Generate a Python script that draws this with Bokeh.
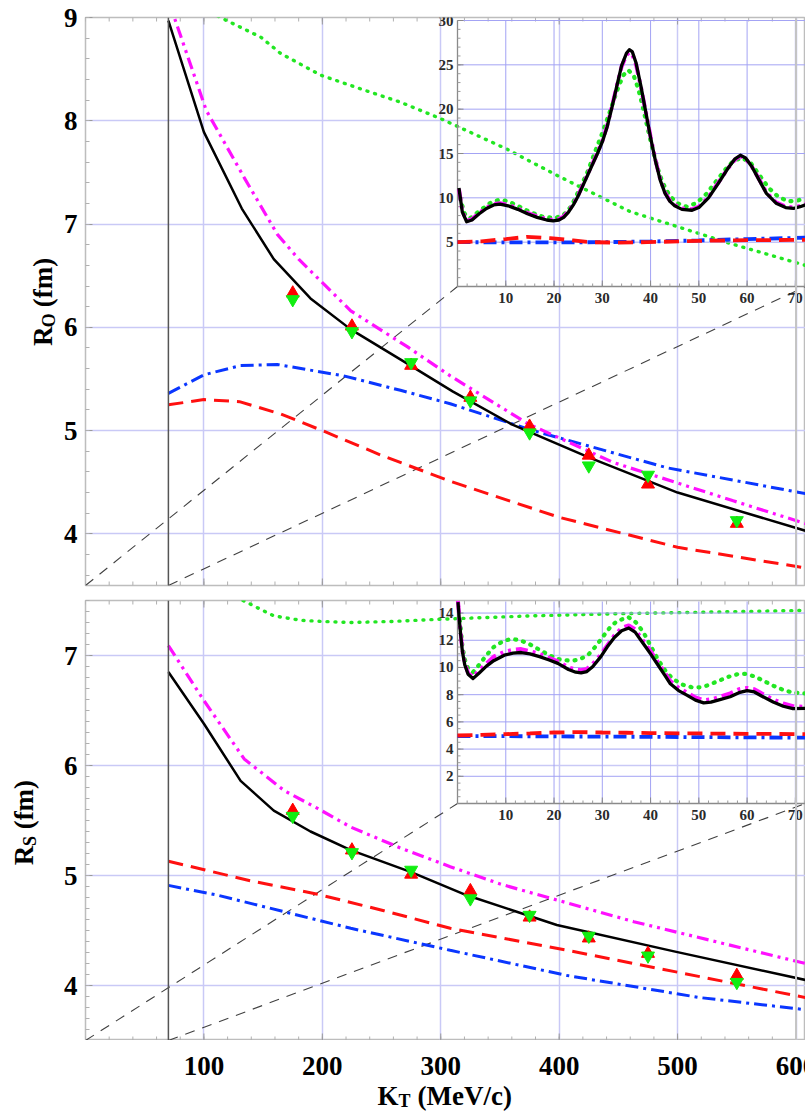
import math
from bokeh.plotting import figure
from bokeh.layouts import column, row
from bokeh.models import FixedTicker, Span, Range1d
from bokeh.embed import file_html
from bokeh.resources import INLINE
from bokeh.core.properties import value

# ---------------- data ----------------
kt_ticks = [100, 200, 300, 400, 500, 600]
kt_minor = [v for v in range(0, 620, 20)]
ro_ticks = [4, 5, 6, 7, 8, 9]
rs_ticks = [4, 5, 6, 7]
ins_x_ticks = [10, 20, 30, 40, 50, 60, 70]
ins_ro_ticks = [5, 10, 15, 20, 25, 30]
ins_rs_ticks = [2, 4, 6, 8, 10, 12, 14]

kt_cut = 70  # zoom boundary (MeV/c)

# Measured points
kt_pts = [175, 225, 275, 325, 375, 425, 475, 550]
ro_red = [6.33, 6.01, 5.63, 5.32, 5.04, 4.76, 4.48, 4.10]
ro_green = [6.27, 5.96, 5.66, 5.29, 4.98, 4.66, 4.57, 4.13]
rs_red = [5.59, 5.23, 5.01, 4.86, 4.62, 4.43, 4.29, 4.09]
rs_green = [5.54, 5.21, 5.05, 4.79, 4.64, 4.45, 4.27, 4.03]

# R_O main curves
ro_black_x = [70, 100, 132, 159, 190, 224, 270, 310, 360, 425, 500, 608]
ro_black_y = [8.97, 7.89, 7.15, 6.66, 6.28, 5.98, 5.66, 5.38, 5.06, 4.74, 4.40, 4.03]
ro_mag_x = [70, 75, 102, 134, 162, 180, 224, 272, 308, 373, 446, 547, 608]
ro_mag_y = [9.22, 9.0, 8.1, 7.45, 6.90, 6.66, 6.16, 5.81, 5.53, 5.07, 4.69, 4.32, 4.10]
ro_blue_x = [70, 100, 131, 162, 218, 266, 308, 378, 491, 608]
ro_blue_y = [5.36, 5.54, 5.63, 5.64, 5.53, 5.39, 5.26, 5.00, 4.64, 4.39]
ro_red_x = [70, 100, 130, 165, 200, 250, 308, 400, 500, 608]
ro_red_y = [5.25, 5.30, 5.28, 5.16, 5.00, 4.76, 4.51, 4.16, 3.87, 3.67]
ro_green_x = [100, 114, 148, 165, 199, 232, 266, 300, 355, 400, 460, 545, 608]
ro_green_y = [9.09, 9.0, 8.81, 8.65, 8.44, 8.31, 8.18, 8.02, 7.73, 7.46, 7.12, 6.81, 6.60]

# R_S main curves
rs_black_x = [70, 100, 131, 159, 190, 224, 275, 322, 398, 497, 608]
rs_black_y = [6.85, 6.38, 5.86, 5.59, 5.40, 5.23, 5.03, 4.82, 4.55, 4.31, 4.05]
rs_mag_x = [70, 100, 134, 168, 196, 224, 266, 308, 351, 463, 608]
rs_mag_y = [7.09, 6.59, 6.06, 5.77, 5.61, 5.44, 5.25, 5.08, 4.92, 4.58, 4.20]
rs_red_x = [70, 140, 196, 252, 308, 407, 519, 608]
rs_red_y = [5.13, 4.95, 4.83, 4.68, 4.52, 4.32, 4.08, 3.89]
rs_blue_x = [70, 112, 168, 224, 308, 407, 519, 608]
rs_blue_y = [4.91, 4.82, 4.67, 4.52, 4.32, 4.09, 3.89, 3.78]
rs_green_x = [115, 133, 159, 182, 199, 224, 260, 300, 376, 450, 608]
rs_green_y = [7.60, 7.50, 7.36, 7.32, 7.31, 7.30, 7.31, 7.33, 7.36, 7.38, 7.41]

# R_O inset curves
iro_black_x = [0.3, 1.0, 1.9, 3.0, 4.5, 6.0, 7.5, 8.8, 10.5, 12.5, 14.5, 16.5, 18.5, 19.8, 21, 22, 23, 24, 25,
               26, 27, 28, 29, 30, 31, 32, 33, 34, 35, 35.6, 36.2, 37, 38, 39, 40, 41, 42, 43, 44, 45,
               46.5, 48.6, 50, 52, 54, 56, 57.5, 58.6, 59.7, 61, 62.5, 64, 66, 68, 69.6, 71, 72.1]
iro_black_y = [11.1, 8.4, 7.3, 7.5, 8.2, 8.8, 9.2, 9.3, 9.1, 8.7, 8.2, 7.8, 7.5, 7.4, 7.5, 7.8, 8.4, 9.2, 10.2,
               11.4, 12.6, 13.8, 15.0, 16.3, 18.0, 20.2, 22.6, 24.9, 26.3, 26.7, 26.5, 25.2, 22.6, 19.7, 16.8,
               14.2, 12.0, 10.5, 9.6, 9.1, 8.7, 8.6, 8.9, 10.0, 11.6, 13.3, 14.4, 14.8, 14.5, 13.5, 12.0,
               10.5, 9.4, 8.9, 8.8, 9.0, 9.2]
iro_mag_x = [0.3, 1.0, 1.9, 3.0, 4.5, 6.0, 7.5, 8.8, 10.5, 12.5, 14.5, 16.5, 18.5, 19.8, 21, 22, 23, 24, 25,
             26, 27, 28, 29, 30, 31, 32, 33, 34, 35, 35.6, 36.2, 37, 38, 39, 40, 41, 42, 43, 44, 45,
             46.5, 48.6, 50, 52, 54, 56, 57.5, 58.6, 59.7, 61, 62.5, 64, 66, 68, 69.6, 71, 72.1]
iro_mag_y = [11.0, 8.5, 7.4, 7.6, 8.3, 8.9, 9.3, 9.4, 9.2, 8.8, 8.3, 7.9, 7.6, 7.5, 7.6, 7.9, 8.5, 9.3, 10.3,
             11.5, 12.7, 13.9, 15.1, 16.4, 18.1, 20.3, 22.6, 24.8, 26.1, 26.4, 26.2, 25.0, 22.5, 19.7, 16.9,
             14.3, 12.1, 10.6, 9.7, 9.2, 8.8, 8.7, 9.0, 10.1, 11.7, 13.3, 14.3, 14.7, 14.4, 13.5, 12.1,
             10.6, 9.5, 9.0, 8.9, 9.1, 9.3]
iro_green_x = [0.5, 1.5, 2.6, 5, 7, 8.8, 10.5, 12.5, 15, 17.5, 20.2, 22, 23.5, 25.4, 27, 28.5, 30, 31.5, 33,
               34.3, 35.4, 36.5, 37.5, 38.5, 39.5, 40.5, 41.5, 42.5, 44, 45.5, 47.5, 49.5, 51.5, 53.5, 55.5,
               57.2, 59, 60.8, 62.5, 64.5, 66.5, 68.6, 70.5, 72]
iro_green_y = [10.0, 8.2, 7.7, 8.7, 9.5, 9.8, 9.6, 9.1, 8.4, 7.9, 7.7, 8.1, 9.0, 11.1, 13.0, 15.2, 17.3, 19.6,
               22.0, 23.8, 24.4, 23.8, 22.2, 20.0, 17.6, 15.3, 13.3, 11.7, 10.2, 9.4, 9.0, 9.4, 10.4, 11.8,
               13.2, 14.2, 14.5, 13.9, 12.6, 11.1, 10.1, 9.6, 9.7, 9.95]
iro_red_x = [0, 5, 10, 14.4, 19.2, 24, 27.5, 33, 39.3, 50, 60, 72]
iro_red_y = [5.0, 5.1, 5.35, 5.6, 5.45, 5.2, 5.0, 4.95, 5.0, 5.15, 5.22, 5.26]
iro_blue_x = [0, 10, 20, 30, 40, 50, 60, 72]
iro_blue_y = [5.0, 4.98, 4.97, 5.0, 5.08, 5.2, 5.35, 5.5]

# R_S inset curves
irs_black_x = [0.1, 0.5, 1.0, 1.5, 2.2, 3.2, 4.5, 6, 7.5, 9.7, 11.5, 13.2, 15, 17, 19, 20.8, 23, 24.5, 25.6,
               26.8, 28, 29.7, 31, 32.5, 34, 35.5, 36.8, 38, 39, 40, 41.5, 43, 44.1, 45.8, 47.6, 49.3, 51,
               52.5, 54, 56.5, 58.3, 60, 61.5, 63, 65.4, 67.5, 69.5, 72]
irs_black_y = [14.8, 13.0, 11.2, 10.2, 9.5, 9.18, 9.6, 10.1, 10.5, 10.9, 11.05, 11.1, 11.0, 10.8, 10.55, 10.3,
               9.85, 9.65, 9.6, 9.7, 10.05, 10.8, 11.5, 12.2, 12.7, 12.9, 12.6, 12.0, 11.5, 11.0, 10.2, 9.4,
               8.8, 8.3, 7.95, 7.6, 7.4, 7.45, 7.6, 7.85, 8.15, 8.3, 8.2, 7.9, 7.46, 7.15, 6.97, 7.0]
irs_mag_x = [0.1, 0.5, 1.0, 1.5, 2.2, 3.2, 4.5, 6, 7.5, 9.7, 11.5, 13.2, 15, 17, 19, 20.8, 23, 24.5, 25.6,
             26.8, 28, 29.7, 31, 32.5, 34, 35.5, 36.8, 38, 39, 40, 41.5, 43, 44.1, 45.8, 47.6, 49.3, 51,
             52.5, 54, 56.5, 58.3, 60, 61.5, 63, 65.4, 67.5, 69.5, 72]
irs_mag_y = [14.9, 13.1, 11.3, 10.3, 9.6, 9.3, 9.8, 10.3, 10.8, 11.15, 11.3, 11.35, 11.2, 11.0, 10.7, 10.45,
             10.0, 9.85, 9.8, 9.9, 10.25, 10.95, 11.6, 12.35, 12.9, 13.1, 12.8, 12.2, 11.7, 11.2, 10.4, 9.6,
             9.0, 8.5, 8.15, 7.8, 7.6, 7.65, 7.8, 8.1, 8.4, 8.5, 8.4, 8.1, 7.65, 7.35, 7.15, 7.1]
irs_green_x = [0.5, 1.0, 1.5, 2.2, 3.2, 4.5, 6, 7.5, 9.5, 11.2, 13, 15, 17, 19, 21, 23.3, 25, 27, 28.5, 30,
               31.5, 33, 35.4, 37, 38.5, 40, 41.5, 43, 44.5, 46.5, 48.5, 50.3, 52, 54, 56, 58, 59.6, 61.5,
               63.5, 65.5, 67.5, 69.5, 72]
irs_green_y = [13.5, 11.6, 10.6, 9.9, 9.65, 10.2, 10.9, 11.5, 11.95, 12.1, 12.0, 11.7, 11.3, 10.9, 10.6, 10.5,
               10.55, 10.9, 11.5, 12.2, 12.9, 13.4, 13.7, 13.3, 12.6, 11.6, 10.6, 9.8, 9.2, 8.75, 8.55, 8.54,
               8.7, 9.0, 9.3, 9.5, 9.53, 9.35, 9.0, 8.65, 8.35, 8.15, 8.1]
irs_red_x = [0, 5, 10, 15, 20, 25, 30, 35, 40, 50, 60, 72]
irs_red_y = [5.0, 5.05, 5.1, 5.15, 5.22, 5.25, 5.22, 5.2, 5.18, 5.15, 5.12, 5.1]
irs_blue_x = [0, 10, 20, 30, 40, 50, 60, 72]
irs_blue_y = [4.96, 4.95, 4.93, 4.92, 4.9, 4.88, 4.86, 4.84]

# ---------------- layout / styles ----------------
W = 805
LABEL_W = 60              # strip holding the rotated y titles
LEFT = 85                 # canvas x of the main frame's left edge
XR = (0, 608)
INSET_LEFT = 457          # canvas px of inset x = 0
INSET_XMAX = 72.1         # inset x at right edge of window
FONT = "Liberation Serif"
C_RED, C_GREEN, C_BLUE, C_MAG = "#ff1010", "#22e622", "#0a36ff", "#ff10ff"
GRID_MAIN = "#c9c9f6"
GRID_INSET = "#a3a3f4"
TOP_H = 593               # canvas 0..593
BOT_H = 447               # canvas 593..1040
STRIP_H = 1112 - TOP_H - BOT_H


def make_panel(height, b_top, b_bot, yr, yticks, yminor, inset_top_px, inset_bot_px, inset_ymax):
    frame_h = height - b_top - b_bot
    frame_w = W - LEFT
    sx = INSET_XMAX / (W - INSET_LEFT)
    ix = Range1d(-(INSET_LEFT - LEFT) * sx, INSET_XMAX)
    sy = inset_ymax / (inset_bot_px - inset_top_px)
    iy = Range1d(-(b_top + frame_h - inset_bot_px) * sy, inset_ymax + (inset_top_px - b_top) * sy)

    p = figure(width=W - LABEL_W, height=height, x_range=Range1d(*XR), y_range=Range1d(*yr),
               output_backend="svg", toolbar_location=None, x_axis_location=None,
               min_border_left=LEFT - LABEL_W, min_border_right=0,
               min_border_top=b_top, min_border_bottom=b_bot)
    p.extra_x_ranges = {"ix": ix}
    p.extra_y_ranges = {"iy": iy}
    p.outline_line_color = "#bdbdbd"
    p.outline_line_width = 1.5
    xt = FixedTicker(ticks=kt_ticks, minor_ticks=kt_minor)
    yt = FixedTicker(ticks=yticks, minor_ticks=yminor)
    p.xgrid.ticker = xt
    p.ygrid.ticker = yt
    p.xgrid.grid_line_color = GRID_MAIN
    p.ygrid.grid_line_color = GRID_MAIN
    p.xgrid.grid_line_width = 1.5
    p.ygrid.grid_line_width = 1.5
    for ax in p.yaxis:
        ax.ticker = yt
        ax.axis_line_color = None
        ax.major_tick_in = 7
        ax.major_tick_out = 0
        ax.minor_tick_in = 4
        ax.minor_tick_out = 0
        ax.major_tick_line_color = "#9a9a9a"
        ax.minor_tick_line_color = "#b0b0b0"
        ax.major_label_text_font = FONT
        ax.major_label_text_font_style = "bold"
        ax.major_label_text_font_size = "27px"
        ax.major_label_text_color = "black"
        ax.major_label_standoff = 8
    for yy, ang in ((yr[1], -math.pi / 2), (yr[0], math.pi / 2)):
        p.ray(x=kt_minor, y=[yy] * len(kt_minor), length=4, length_units="screen",
              angle=ang, line_color="#b0b0b0", line_width=1)
        p.ray(x=kt_ticks, y=[yy] * len(kt_ticks), length=7, length_units="screen",
              angle=ang, line_color="#9a9a9a", line_width=1)
    p.add_layout(Span(location=600, dimension="height", line_color="#c4c4c4", line_width=2))
    p.add_layout(Span(location=kt_cut, dimension="height", line_color="#555555", line_width=1.5))

    def xdata(px):
        return XR[0] + (px - LEFT) / frame_w * (XR[1] - XR[0])

    def ydata(py):
        return yr[1] - (py - b_top) / frame_h * (yr[1] - yr[0])
    yc = ydata(inset_bot_px)
    p.segment(x0=[XR[0], kt_cut], y0=[yr[0], yr[0]], x1=[xdata(INSET_LEFT), xdata(W)], y1=[yc, yc],
              line_color="#404040", line_width=1.1, line_dash="10 8")
    return p


def draw_curves(p, series, w, rx="default", ry="default"):
    black, mag, blue, red, green = series
    kw = dict(x_range_name=rx, y_range_name=ry)
    p.line(green[0], green[1], line_color=C_GREEN, line_width=w + 0.9, line_dash="1 7", line_cap="round", **kw)
    p.line(blue[0], blue[1], line_color=C_BLUE, line_width=w + 0.5, line_dash="13 5 3 5", **kw)
    p.line(red[0], red[1], line_color=C_RED, line_width=w + 0.5, line_dash="15 8", **kw)
    p.line(mag[0], mag[1], line_color=C_MAG, line_width=w + 0.7, line_dash="12 5 3 5 3 5", **kw)
    p.line(black[0], black[1], line_color="black", line_width=w, line_join="round", **kw)


def draw_inset_axes(p, yticks, yminor, ymax):
    kw = dict(x_range_name="ix", y_range_name="iy")
    n = len(ins_x_ticks)
    m = len(yticks)
    p.segment(x0=ins_x_ticks, y0=[0] * n, x1=ins_x_ticks, y1=[ymax] * n,
              line_color=GRID_INSET, line_width=1, **kw)
    p.segment(x0=[0] * m, y0=yticks, x1=[INSET_XMAX] * m, y1=yticks,
              line_color=GRID_INSET, line_width=1, **kw)
    p.segment(x0=[0, 0], y0=[0, 0], x1=[0, INSET_XMAX], y1=[ymax, 0],
              line_color="#8a8a8a", line_width=1.3, **kw)
    xminor = [v for v in range(2, 73, 2)]
    p.ray(x=xminor, y=[0] * len(xminor), length=3, length_units="screen", angle=math.pi / 2,
          line_color="#9a9a9a", **kw)
    p.ray(x=ins_x_ticks, y=[0] * n, length=6, length_units="screen", angle=math.pi / 2,
          line_color="#8a8a8a", **kw)
    p.ray(x=[0] * len(yminor), y=yminor, length=3, length_units="screen", angle=0,
          line_color="#9a9a9a", **kw)
    p.ray(x=[0] * m, y=yticks, length=6, length_units="screen", angle=0,
          line_color="#8a8a8a", **kw)
    p.text(x=ins_x_ticks, y=[0] * n, text=[str(v) for v in ins_x_ticks], y_offset=6,
           text_align="center", text_baseline="top", text_font=value(FONT), text_font_style="bold",
           text_font_size="15px", text_color="#2a2a2a", **kw)
    p.text(x=[0] * m, y=yticks, text=[str(v) for v in yticks], x_offset=-4,
           text_align="right", text_baseline="middle", text_font=value(FONT), text_font_style="bold",
           text_font_size="15px", text_color="#2a2a2a", **kw)


def blank_fig(width, height, xr, yr, left=0):
    f = figure(width=width, height=height, x_range=xr, y_range=yr, output_backend="svg",
               toolbar_location=None, x_axis_location=None, y_axis_location=None,
               min_border_left=left, min_border_right=0, min_border_top=0, min_border_bottom=0)
    f.outline_line_color = None
    f.xgrid.visible = False
    f.ygrid.visible = False
    return f


def put(f, x, y, text, size, angle=0.0, align="left", **kw):
    f.text(x=[x], y=[y], text=[text], angle=angle, text_align=align, text_baseline="middle",
           text_font=value(FONT), text_font_style="bold", text_font_size=size, text_color="black", **kw)


# ---------------- top panel (R_O) ----------------
ro_yr = (3.5, 9.0)
p1 = make_panel(TOP_H, 17, 8, ro_yr, ro_ticks, [round(3.6 + 0.2 * i, 1) for i in range(28)],
                20, 286, 30)
draw_curves(p1, [(ro_black_x, ro_black_y), (ro_mag_x, ro_mag_y), (ro_blue_x, ro_blue_y),
                 (ro_red_x, ro_red_y), (ro_green_x, ro_green_y)], 2.5)
p1.scatter(kt_pts, ro_red, marker="triangle", size=13, fill_color="#ff0000", line_color="#ff0000")
p1.scatter(kt_pts, ro_green, marker="inverted_triangle", size=13, fill_color="#11ee11", line_color="#11ee11")
draw_inset_axes(p1, ins_ro_ticks, [v for v in range(1, 31)], 30)
draw_curves(p1, [(iro_black_x, iro_black_y), (iro_mag_x, iro_mag_y), (iro_blue_x, iro_blue_y),
                 (iro_red_x, iro_red_y), (iro_green_x, iro_green_y)], 3.3, "ix", "iy")

l1 = blank_fig(LABEL_W, TOP_H, Range1d(0, LABEL_W), Range1d(0, TOP_H))
put(l1, 42, TOP_H - 343, "R", "27px", angle=math.pi / 2)
put(l1, 48, TOP_H - 323.5, "O", "18px", angle=math.pi / 2)
put(l1, 42, TOP_H - 302.5, "(fm)", "27px", angle=math.pi / 2)

# ---------------- bottom panel (R_S) ----------------
rs_yr = (3.5, 7.5)
p2 = make_panel(BOT_H, 7, 0, rs_yr, rs_ticks, [round(3.5 + 0.1 * i, 1) for i in range(41)],
                601 - TOP_H, 803 - TOP_H, 14.85)
draw_curves(p2, [(rs_black_x, rs_black_y), (rs_mag_x, rs_mag_y), (rs_blue_x, rs_blue_y),
                 (rs_red_x, rs_red_y), (rs_green_x, rs_green_y)], 2.5)
p2.scatter(kt_pts, rs_red, marker="triangle", size=13, fill_color="#ff0000", line_color="#ff0000")
p2.scatter(kt_pts, rs_green, marker="inverted_triangle", size=13, fill_color="#11ee11", line_color="#11ee11")
draw_inset_axes(p2, ins_rs_ticks, [round(0.5 * v, 1) for v in range(1, 30)], 14.85)
draw_curves(p2, [(irs_black_x, irs_black_y), (irs_mag_x, irs_mag_y), (irs_blue_x, irs_blue_y),
                 (irs_red_x, irs_red_y), (irs_green_x, irs_green_y)], 3.3, "ix", "iy")

l2 = blank_fig(LABEL_W, BOT_H, Range1d(0, LABEL_W), Range1d(0, BOT_H))
base2 = TOP_H + BOT_H
put(l2, 23, base2 - 862, "R", "27px", angle=math.pi / 2)
put(l2, 29, base2 - 842.5, "S", "18px", angle=math.pi / 2)
put(l2, 23, base2 - 825.5, "(fm)", "27px", angle=math.pi / 2)

# ---------------- x tick labels and title strip ----------------
s = blank_fig(W, STRIP_H, Range1d(*XR), Range1d(0, STRIP_H), left=LEFT)
s.extra_x_ranges = {"px": Range1d(LEFT, W)}
s.text(x=kt_ticks, y=[1112 - 1065] * len(kt_ticks), text=[str(v) for v in kt_ticks],
       text_align="center", text_baseline="middle", text_font=value(FONT), text_font_style="bold",
       text_font_size="27px", text_color="black")
put(s, 377, 1112 - 1095, "K", "27px", x_range_name="px")
put(s, 398, 1112 - 1100, "T", "18px", x_range_name="px")
put(s, 417, 1112 - 1095, "(MeV/c)", "27px", x_range_name="px")

layout = column(row(l1, p1, spacing=0), row(l2, p2, spacing=0), s, spacing=0)
open("out.html", "w").write(file_html(layout, INLINE))
